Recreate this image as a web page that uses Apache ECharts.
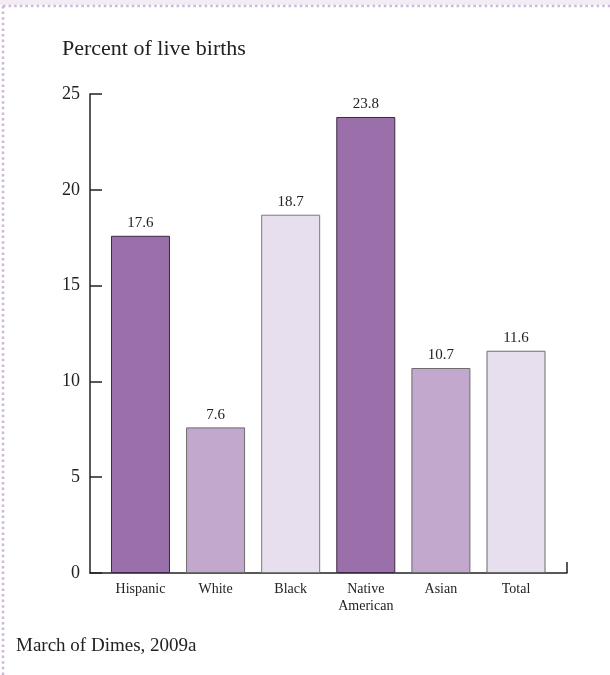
<!DOCTYPE html>
<html>
<head>
<meta charset="utf-8">
<script src="https://cdn.jsdelivr.net/npm/echarts@6/dist/echarts.min.js"></script>
<style>
  html, body { margin: 0; padding: 0; background: #ffffff; }
  #chart { width: 610px; height: 675px; }
</style>
</head>
<body>
<div id="chart"></div>
<script>
// Preterm birth rates by group
const categories = ['Hispanic', 'White', 'Black', 'Native\nAmerican', 'Asian', 'Total'];
const values = [17.6, 7.6, 18.7, 23.8, 10.7, 11.6];
const yTicks = [0, 5, 10, 15, 20, 25];

const fills = ['#9b70aa', '#c3a8ce', '#e8dfee', '#9b70aa', '#c3a8ce', '#e8dfee'];
const strokes = ['#3b2a42', '#6b6b6b', '#7a7a7a', '#3b2a42', '#6b6b6b', '#6b6b6b'];

// Category positions on a value axis, so the baseline can run past the outer bars
const xMin = -0.672;
const xMax = 5.679;
const FONT = '"Liberation Serif", "DejaVu Serif", serif';

const chart = echarts.init(document.getElementById('chart'), null, { renderer: 'canvas' });

chart.setOption({
  animation: false,
  backgroundColor: '#ffffff',
  title: [
    {
      text: 'Percent of live births',
      left: 62, top: 38, padding: 0,
      textStyle: { fontFamily: FONT, fontSize: 22, fontWeight: 'normal', color: '#222' }
    },
    {
      text: 'March of Dimes, 2009a',
      left: 16, top: 637, padding: 0,
      textStyle: { fontFamily: FONT, fontSize: 19, fontWeight: 'normal', color: '#222' }
    }
  ],
  grid: { left: 90, right: 43, top: 94, bottom: 102, containLabel: false },
  xAxis: {
    type: 'value',
    min: xMin,
    max: xMax,
    axisLine: { show: true, onZero: false, lineStyle: { color: '#222', width: 1.5 } },
    axisTick: { show: true, inside: true, length: 11, customValues: [xMax], lineStyle: { color: '#222', width: 1.5 } },
    splitLine: { show: false },
    axisLabel: {
      customValues: categories.map((c, i) => i),
      formatter: v => categories[Math.round(v)] || '',
      fontFamily: FONT, fontSize: 14, color: '#222', margin: 8, lineHeight: 17
    }
  },
  yAxis: {
    type: 'value',
    min: 0, max: 25, interval: 5,
    axisLine: { show: true, onZero: false, lineStyle: { color: '#222', width: 1.5 } },
    axisTick: { show: true, inside: true, length: 12, lineStyle: { color: '#222', width: 1.5 } },
    splitLine: { show: false },
    axisLabel: {
      fontFamily: FONT, fontSize: 18, color: '#222', margin: 10, padding: [9, 0, 0, 0],
      formatter: v => (yTicks.indexOf(v) >= 0 ? String(v) : '')
    }
  },
  series: [{
    type: 'bar',
    barWidth: 59,
    data: values.map((v, i) => ({
      value: [i, v],
      itemStyle: { color: fills[i], borderColor: strokes[i], borderWidth: 1 }
    })),
    label: {
      show: true, position: 'top', distance: 5,
      fontFamily: FONT, fontSize: 15, color: '#222',
      formatter: p => p.value[1].toFixed(1)
    }
  }],
  graphic: [
    { type: 'rect', shape: { x: 0, y: 0, width: 610, height: 5 }, style: { fill: '#f2edf5' }, silent: true },
    { type: 'line', shape: { x1: 3, y1: 6, x2: 610, y2: 6 }, style: { stroke: '#cdb6da', lineWidth: 2.5, lineDash: [2.5, 3.1] }, silent: true },
    { type: 'line', shape: { x1: 3, y1: 6, x2: 3, y2: 675 }, style: { stroke: '#cdb6da', lineWidth: 2.5, lineDash: [2.5, 3.1] }, silent: true }
  ]
});
</script>
</body>
</html>
